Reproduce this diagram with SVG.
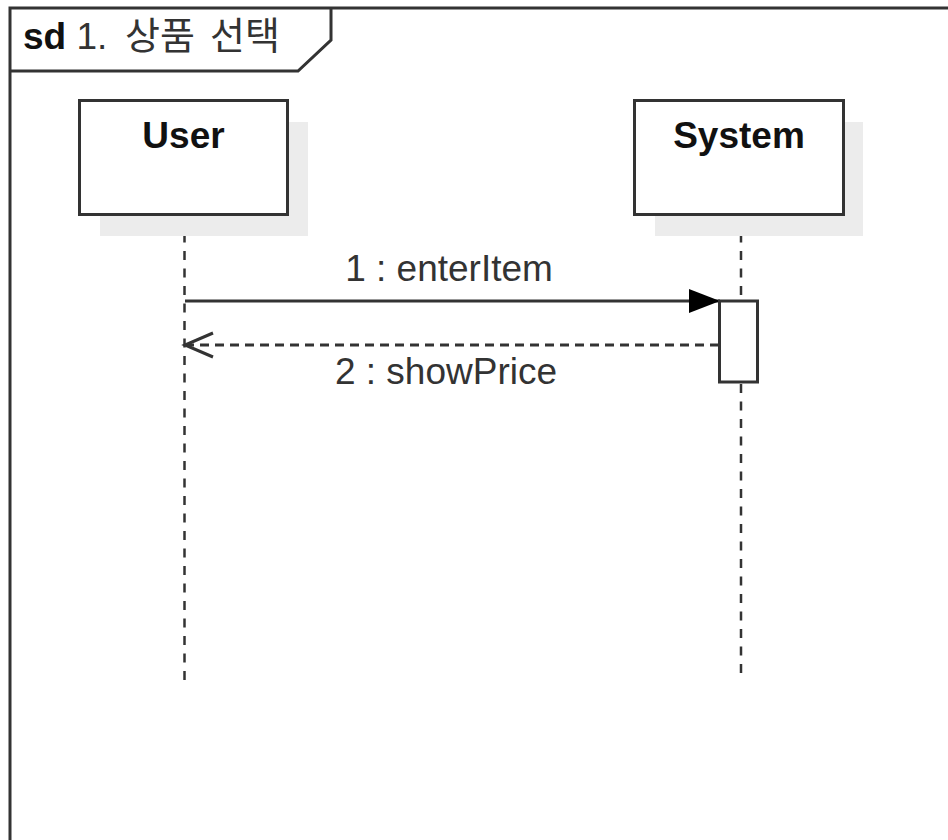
<svg xmlns="http://www.w3.org/2000/svg" width="948" height="840" viewBox="0 0 948 840">
<defs>
<style>
.frame{fill:none;stroke:#333;stroke-width:3}
.box{fill:#fff;stroke:#333;stroke-width:3}
.shadow{fill:#ececec;stroke:none}
.life{fill:none;stroke:#333;stroke-width:2.5;stroke-dasharray:9 8.5}
.msg{fill:none;stroke:#333;stroke-width:3}
.ret{fill:none;stroke:#333;stroke-width:3;stroke-dasharray:9 6}
.name{font-family:"Liberation Sans",Arial,sans-serif;font-weight:bold;font-size:37px;fill:#111;text-anchor:middle}
.lbl{font-family:"Liberation Sans",Arial,sans-serif;font-size:37px;fill:#333;text-anchor:middle}
.title{font-family:"Liberation Sans","Noto Sans CJK KR",sans-serif;font-size:37px;fill:#333}
</style>
<marker id="filled" markerWidth="32" markerHeight="26" refX="31" refY="12" orient="auto" markerUnits="userSpaceOnUse">
<path d="M0,0 L31,12 L0,24 Z" fill="#000"/>
</marker>
</defs>
<rect width="948" height="840" fill="#fff"/>
<g id="frame">
<path class="frame" d="M10,842 L10,8 L950,8 M10,71 L298,71 L331,40 L331,8"/>
<text class="title" x="23" y="49"><tspan font-weight="bold" fill="#111">sd</tspan> 1. <tspan x="125" font-size="38">상품</tspan><tspan x="210" font-size="38">선택</tspan></text>
</g>
<g id="connectors">
<line class="life" x1="184.5" y1="216" x2="184.5" y2="680"/>
<line class="life" x1="741" y1="216" x2="741" y2="300"/>
<line class="life" x1="741" y1="384" x2="741" y2="680"/>
<line class="msg" x1="185" y1="301" x2="720" y2="301" marker-end="url(#filled)"/>
<line class="ret" x1="719" y1="345" x2="187" y2="345"/>
<path class="msg" d="M213,333 L185,345 L213,357" stroke-linejoin="miter"/>
<text class="lbl" x="449" y="281">1 : enterItem</text>
<text class="lbl" x="446" y="384">2 : showPrice</text>
</g>
<g id="user">
<rect class="shadow" x="100" y="122" width="208" height="114"/>
<rect class="box" x="79.5" y="100.5" width="208" height="114"/>
<text class="name" x="183.5" y="148">User</text>
</g>
<g id="system">
<rect class="shadow" x="655" y="122" width="208" height="114"/>
<rect class="box" x="634.5" y="100.5" width="209" height="114"/>
<text class="name" x="739" y="148">System</text>
</g>
<g id="activation">
<rect class="box" x="719.5" y="301" width="38" height="81"/>
</g>
</svg>
